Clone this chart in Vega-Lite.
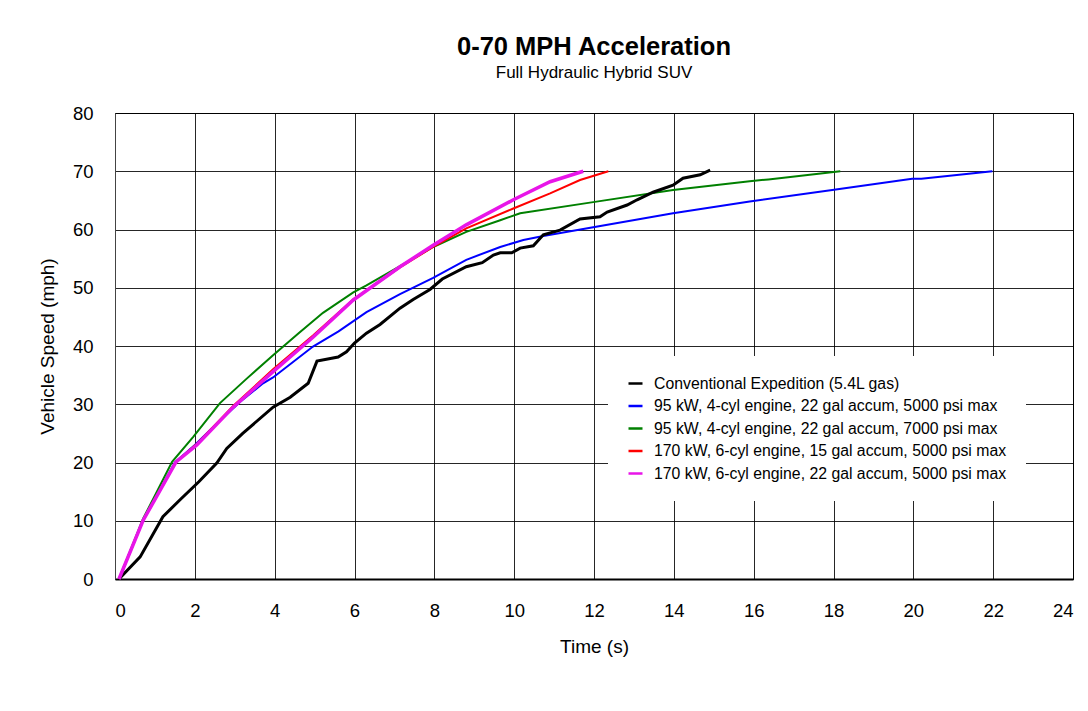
{
  "$schema": "https://vega.github.io/schema/vega-lite/v6.json",
  "width": 958,
  "height": 466,
  "autosize": "none",
  "padding": {"left": 115, "top": 113, "right": 15, "bottom": 132},
  "background": "white",
  "title": {
    "text": "0-70 MPH Acceleration",
    "subtitle": "Full Hydraulic Hybrid SUV",
    "anchor": "middle",
    "font": "Liberation Sans",
    "fontSize": 25.5,
    "fontWeight": "bold",
    "color": "black",
    "subtitleFont": "Liberation Sans",
    "subtitleFontSize": 17,
    "subtitleColor": "black",
    "subtitlePadding": 5,
    "offset": 23
  },
  "config": {
    "font": "Liberation Sans",
    "view": {"stroke": "black", "strokeWidth": 1},
    "axis": {
      "labelFont": "Liberation Sans",
      "titleFont": "Liberation Sans",
      "labelColor": "black",
      "titleColor": "black",
      "labelFontSize": 18.5,
      "titleFontSize": 19,
      "titleFontWeight": "normal",
      "ticks": false,
      "gridColor": "black",
      "gridOpacity": 0.85,
      "gridWidth": 1
    }
  },
  "data": {
    "values": [
      {"series": "Conventional Expedition (5.4L gas)", "t": 0.1, "v": 0},
      {"series": "Conventional Expedition (5.4L gas)", "t": 0.63, "v": 3.8},
      {"series": "Conventional Expedition (5.4L gas)", "t": 1.2, "v": 10.7},
      {"series": "Conventional Expedition (5.4L gas)", "t": 1.63, "v": 13.6},
      {"series": "Conventional Expedition (5.4L gas)", "t": 2.1, "v": 16.7},
      {"series": "Conventional Expedition (5.4L gas)", "t": 2.55, "v": 19.9},
      {"series": "Conventional Expedition (5.4L gas)", "t": 2.8, "v": 22.4},
      {"series": "Conventional Expedition (5.4L gas)", "t": 3.2, "v": 25},
      {"series": "Conventional Expedition (5.4L gas)", "t": 3.96, "v": 29.5},
      {"series": "Conventional Expedition (5.4L gas)", "t": 4.39, "v": 31.2},
      {"series": "Conventional Expedition (5.4L gas)", "t": 4.84, "v": 33.6},
      {"series": "Conventional Expedition (5.4L gas)", "t": 5.06, "v": 37.4},
      {"series": "Conventional Expedition (5.4L gas)", "t": 5.59, "v": 38.1},
      {"series": "Conventional Expedition (5.4L gas)", "t": 5.8, "v": 39},
      {"series": "Conventional Expedition (5.4L gas)", "t": 6.0, "v": 40.5},
      {"series": "Conventional Expedition (5.4L gas)", "t": 6.3, "v": 42.2},
      {"series": "Conventional Expedition (5.4L gas)", "t": 6.64, "v": 43.7},
      {"series": "Conventional Expedition (5.4L gas)", "t": 7.14, "v": 46.5},
      {"series": "Conventional Expedition (5.4L gas)", "t": 7.47, "v": 48},
      {"series": "Conventional Expedition (5.4L gas)", "t": 7.89, "v": 49.7},
      {"series": "Conventional Expedition (5.4L gas)", "t": 8.2, "v": 51.5},
      {"series": "Conventional Expedition (5.4L gas)", "t": 8.8, "v": 53.6},
      {"series": "Conventional Expedition (5.4L gas)", "t": 9.2, "v": 54.3},
      {"series": "Conventional Expedition (5.4L gas)", "t": 9.48, "v": 55.6},
      {"series": "Conventional Expedition (5.4L gas)", "t": 9.65, "v": 56},
      {"series": "Conventional Expedition (5.4L gas)", "t": 9.94, "v": 56},
      {"series": "Conventional Expedition (5.4L gas)", "t": 10.15, "v": 56.8},
      {"series": "Conventional Expedition (5.4L gas)", "t": 10.48, "v": 57.2},
      {"series": "Conventional Expedition (5.4L gas)", "t": 10.73, "v": 59.1},
      {"series": "Conventional Expedition (5.4L gas)", "t": 11.15, "v": 59.9},
      {"series": "Conventional Expedition (5.4L gas)", "t": 11.65, "v": 61.8},
      {"series": "Conventional Expedition (5.4L gas)", "t": 12.15, "v": 62.2},
      {"series": "Conventional Expedition (5.4L gas)", "t": 12.33, "v": 63},
      {"series": "Conventional Expedition (5.4L gas)", "t": 12.83, "v": 64.2},
      {"series": "Conventional Expedition (5.4L gas)", "t": 13.08, "v": 65.1},
      {"series": "Conventional Expedition (5.4L gas)", "t": 13.48, "v": 66.4},
      {"series": "Conventional Expedition (5.4L gas)", "t": 13.98, "v": 67.6},
      {"series": "Conventional Expedition (5.4L gas)", "t": 14.23, "v": 68.8},
      {"series": "Conventional Expedition (5.4L gas)", "t": 14.66, "v": 69.4},
      {"series": "Conventional Expedition (5.4L gas)", "t": 14.91, "v": 70.2},

      {"series": "95 kW, 4-cyl engine, 22 gal accum, 5000 psi max", "t": 0.1, "v": 0},
      {"series": "95 kW, 4-cyl engine, 22 gal accum, 5000 psi max", "t": 0.7, "v": 10},
      {"series": "95 kW, 4-cyl engine, 22 gal accum, 5000 psi max", "t": 1.5, "v": 20},
      {"series": "95 kW, 4-cyl engine, 22 gal accum, 5000 psi max", "t": 2.0, "v": 23},
      {"series": "95 kW, 4-cyl engine, 22 gal accum, 5000 psi max", "t": 2.46, "v": 26.1},
      {"series": "95 kW, 4-cyl engine, 22 gal accum, 5000 psi max", "t": 3.13, "v": 30.4},
      {"series": "95 kW, 4-cyl engine, 22 gal accum, 5000 psi max", "t": 3.71, "v": 33.6},
      {"series": "95 kW, 4-cyl engine, 22 gal accum, 5000 psi max", "t": 3.96, "v": 34.6},
      {"series": "95 kW, 4-cyl engine, 22 gal accum, 5000 psi max", "t": 4.96, "v": 39.9},
      {"series": "95 kW, 4-cyl engine, 22 gal accum, 5000 psi max", "t": 5.6, "v": 42.5},
      {"series": "95 kW, 4-cyl engine, 22 gal accum, 5000 psi max", "t": 6.3, "v": 45.8},
      {"series": "95 kW, 4-cyl engine, 22 gal accum, 5000 psi max", "t": 7.14, "v": 48.9},
      {"series": "95 kW, 4-cyl engine, 22 gal accum, 5000 psi max", "t": 7.97, "v": 51.7},
      {"series": "95 kW, 4-cyl engine, 22 gal accum, 5000 psi max", "t": 8.8, "v": 54.8},
      {"series": "95 kW, 4-cyl engine, 22 gal accum, 5000 psi max", "t": 9.65, "v": 57},
      {"series": "95 kW, 4-cyl engine, 22 gal accum, 5000 psi max", "t": 10.23, "v": 58.2},
      {"series": "95 kW, 4-cyl engine, 22 gal accum, 5000 psi max", "t": 10.73, "v": 58.9},
      {"series": "95 kW, 4-cyl engine, 22 gal accum, 5000 psi max", "t": 11.98, "v": 60.4},
      {"series": "95 kW, 4-cyl engine, 22 gal accum, 5000 psi max", "t": 13.98, "v": 62.8},
      {"series": "95 kW, 4-cyl engine, 22 gal accum, 5000 psi max", "t": 15.9, "v": 64.8},
      {"series": "95 kW, 4-cyl engine, 22 gal accum, 5000 psi max", "t": 17.97, "v": 66.8},
      {"series": "95 kW, 4-cyl engine, 22 gal accum, 5000 psi max", "t": 19.97, "v": 68.7},
      {"series": "95 kW, 4-cyl engine, 22 gal accum, 5000 psi max", "t": 20.2, "v": 68.7},
      {"series": "95 kW, 4-cyl engine, 22 gal accum, 5000 psi max", "t": 21.98, "v": 70},

      {"series": "95 kW, 4-cyl engine, 22 gal accum, 7000 psi max", "t": 0.1, "v": 0},
      {"series": "95 kW, 4-cyl engine, 22 gal accum, 7000 psi max", "t": 0.7, "v": 10.3},
      {"series": "95 kW, 4-cyl engine, 22 gal accum, 7000 psi max", "t": 1.43, "v": 20.1},
      {"series": "95 kW, 4-cyl engine, 22 gal accum, 7000 psi max", "t": 1.96, "v": 24.4},
      {"series": "95 kW, 4-cyl engine, 22 gal accum, 7000 psi max", "t": 2.63, "v": 30.2},
      {"series": "95 kW, 4-cyl engine, 22 gal accum, 7000 psi max", "t": 3.3, "v": 34.4},
      {"series": "95 kW, 4-cyl engine, 22 gal accum, 7000 psi max", "t": 3.96, "v": 38.4},
      {"series": "95 kW, 4-cyl engine, 22 gal accum, 7000 psi max", "t": 4.6, "v": 42.2},
      {"series": "95 kW, 4-cyl engine, 22 gal accum, 7000 psi max", "t": 5.21, "v": 45.7},
      {"series": "95 kW, 4-cyl engine, 22 gal accum, 7000 psi max", "t": 5.97, "v": 49.2},
      {"series": "95 kW, 4-cyl engine, 22 gal accum, 7000 psi max", "t": 6.3, "v": 50.4},
      {"series": "95 kW, 4-cyl engine, 22 gal accum, 7000 psi max", "t": 7.14, "v": 53.7},
      {"series": "95 kW, 4-cyl engine, 22 gal accum, 7000 psi max", "t": 7.97, "v": 57},
      {"series": "95 kW, 4-cyl engine, 22 gal accum, 7000 psi max", "t": 8.8, "v": 59.6},
      {"series": "95 kW, 4-cyl engine, 22 gal accum, 7000 psi max", "t": 9.65, "v": 61.6},
      {"series": "95 kW, 4-cyl engine, 22 gal accum, 7000 psi max", "t": 10.15, "v": 62.8},
      {"series": "95 kW, 4-cyl engine, 22 gal accum, 7000 psi max", "t": 11.98, "v": 64.7},
      {"series": "95 kW, 4-cyl engine, 22 gal accum, 7000 psi max", "t": 13.98, "v": 66.8},
      {"series": "95 kW, 4-cyl engine, 22 gal accum, 7000 psi max", "t": 15.9, "v": 68.3},
      {"series": "95 kW, 4-cyl engine, 22 gal accum, 7000 psi max", "t": 16.37, "v": 68.6},
      {"series": "95 kW, 4-cyl engine, 22 gal accum, 7000 psi max", "t": 18.17, "v": 70},

      {"series": "170 kW, 6-cyl engine, 15 gal accum, 5000 psi max", "t": 0.1, "v": 0},
      {"series": "170 kW, 6-cyl engine, 15 gal accum, 5000 psi max", "t": 0.7, "v": 10},
      {"series": "170 kW, 6-cyl engine, 15 gal accum, 5000 psi max", "t": 1.53, "v": 20.1},
      {"series": "170 kW, 6-cyl engine, 15 gal accum, 5000 psi max", "t": 2.05, "v": 23.2},
      {"series": "170 kW, 6-cyl engine, 15 gal accum, 5000 psi max", "t": 2.96, "v": 29.7},
      {"series": "170 kW, 6-cyl engine, 15 gal accum, 5000 psi max", "t": 3.96, "v": 36},
      {"series": "170 kW, 6-cyl engine, 15 gal accum, 5000 psi max", "t": 4.96, "v": 41.8},
      {"series": "170 kW, 6-cyl engine, 15 gal accum, 5000 psi max", "t": 5.97, "v": 48},
      {"series": "170 kW, 6-cyl engine, 15 gal accum, 5000 psi max", "t": 7.14, "v": 53.5},
      {"series": "170 kW, 6-cyl engine, 15 gal accum, 5000 psi max", "t": 7.97, "v": 57},
      {"series": "170 kW, 6-cyl engine, 15 gal accum, 5000 psi max", "t": 8.8, "v": 60.2},
      {"series": "170 kW, 6-cyl engine, 15 gal accum, 5000 psi max", "t": 9.98, "v": 63.6},
      {"series": "170 kW, 6-cyl engine, 15 gal accum, 5000 psi max", "t": 10.9, "v": 66.2},
      {"series": "170 kW, 6-cyl engine, 15 gal accum, 5000 psi max", "t": 11.65, "v": 68.5},
      {"series": "170 kW, 6-cyl engine, 15 gal accum, 5000 psi max", "t": 12.36, "v": 70},

      {"series": "170 kW, 6-cyl engine, 22 gal accum, 5000 psi max", "t": 0.1, "v": 0},
      {"series": "170 kW, 6-cyl engine, 22 gal accum, 5000 psi max", "t": 0.7, "v": 10},
      {"series": "170 kW, 6-cyl engine, 22 gal accum, 5000 psi max", "t": 1.53, "v": 20.1},
      {"series": "170 kW, 6-cyl engine, 22 gal accum, 5000 psi max", "t": 2.05, "v": 23},
      {"series": "170 kW, 6-cyl engine, 22 gal accum, 5000 psi max", "t": 2.96, "v": 29.5},
      {"series": "170 kW, 6-cyl engine, 22 gal accum, 5000 psi max", "t": 3.96, "v": 35.6},
      {"series": "170 kW, 6-cyl engine, 22 gal accum, 5000 psi max", "t": 4.96, "v": 41.5},
      {"series": "170 kW, 6-cyl engine, 22 gal accum, 5000 psi max", "t": 5.97, "v": 47.9},
      {"series": "170 kW, 6-cyl engine, 22 gal accum, 5000 psi max", "t": 7.14, "v": 53.6},
      {"series": "170 kW, 6-cyl engine, 22 gal accum, 5000 psi max", "t": 7.97, "v": 57.3},
      {"series": "170 kW, 6-cyl engine, 22 gal accum, 5000 psi max", "t": 8.8, "v": 60.8},
      {"series": "170 kW, 6-cyl engine, 22 gal accum, 5000 psi max", "t": 9.98, "v": 65.1},
      {"series": "170 kW, 6-cyl engine, 22 gal accum, 5000 psi max", "t": 10.9, "v": 68.2},
      {"series": "170 kW, 6-cyl engine, 22 gal accum, 5000 psi max", "t": 11.73, "v": 70}
    ]
  },
  "encoding": {
    "x": {
      "field": "t",
      "type": "quantitative",
      "title": "Time (s)",
      "scale": {"domain": [0, 24], "nice": false, "zero": false},
      "axis": {
        "values": [0, 2, 4, 6, 8, 10, 12, 14, 16, 18, 20, 22, 24],
        "labelPadding": 22,
        "titlePadding": 18,
        "domainColor": "black",
        "domainWidth": 2,
        "grid": true
      }
    },
    "y": {
      "field": "v",
      "type": "quantitative",
      "title": "Vehicle Speed (mph)",
      "scale": {"domain": [0, 80], "nice": false},
      "axis": {
        "values": [0, 10, 20, 30, 40, 50, 60, 70, 80],
        "labelPadding": 22,
        "titlePadding": 15,
        "domainColor": "#444",
        "domainWidth": 1,
        "grid": true
      }
    },
    "color": {
      "field": "series",
      "type": "nominal",
      "scale": {
        "domain": [
          "Conventional Expedition (5.4L gas)",
          "95 kW, 4-cyl engine, 22 gal accum, 5000 psi max",
          "95 kW, 4-cyl engine, 22 gal accum, 7000 psi max",
          "170 kW, 6-cyl engine, 15 gal accum, 5000 psi max",
          "170 kW, 6-cyl engine, 22 gal accum, 5000 psi max"
        ],
        "range": ["#000000", "#0000ff", "#008000", "#ff0000", "#e815e8"]
      },
      "legend": {
        "title": null,
        "orient": "none",
        "legendX": 493,
        "legendY": 243,
        "fillColor": "white",
        "padding": 19,
        "symbolType": "stroke",
        "symbolSize": 196,
        "symbolStrokeWidth": 2.5,
        "labelFont": "Liberation Sans",
        "labelFontSize": 15.8,
        "labelColor": "black",
        "labelOffset": 10,
        "labelLimit": 500,
        "rowPadding": 5.5
      }
    }
  },
  "layer": [
    {
      "transform": [{"filter": "datum.series === '95 kW, 4-cyl engine, 22 gal accum, 5000 psi max'"}],
      "mark": {"type": "line", "strokeWidth": 2}
    },
    {
      "transform": [{"filter": "datum.series === '95 kW, 4-cyl engine, 22 gal accum, 7000 psi max'"}],
      "mark": {"type": "line", "strokeWidth": 2}
    },
    {
      "transform": [{"filter": "datum.series === '170 kW, 6-cyl engine, 15 gal accum, 5000 psi max'"}],
      "mark": {"type": "line", "strokeWidth": 2}
    },
    {
      "transform": [{"filter": "datum.series === 'Conventional Expedition (5.4L gas)'"}],
      "mark": {"type": "line", "strokeWidth": 3}
    },
    {
      "transform": [{"filter": "datum.series === '170 kW, 6-cyl engine, 22 gal accum, 5000 psi max'"}],
      "mark": {"type": "line", "strokeWidth": 3.5}
    }
  ]
}
